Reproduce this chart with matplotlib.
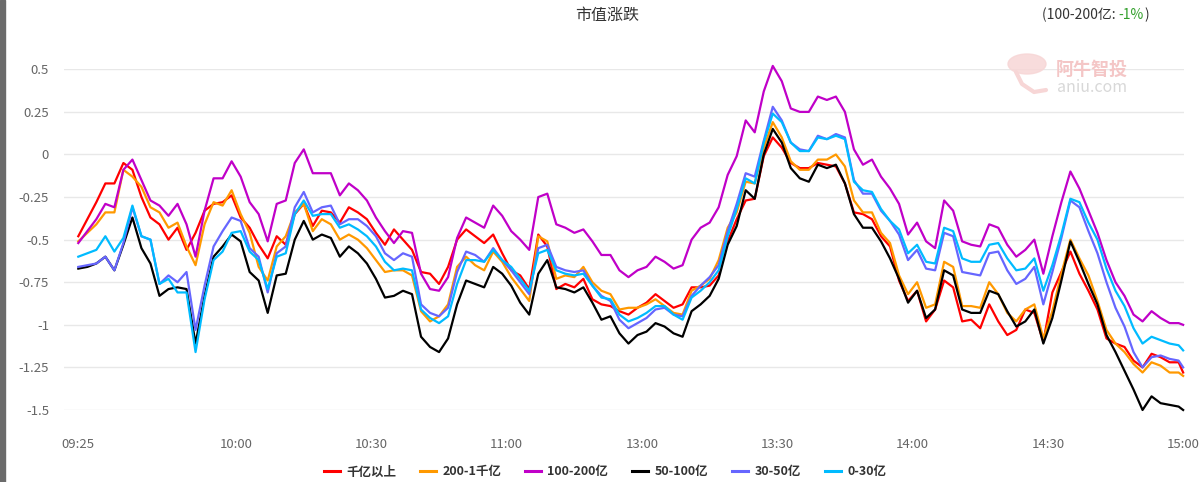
import matplotlib
matplotlib.use('Agg')
import matplotlib.pyplot as plt
from matplotlib.patches import Ellipse, Rectangle

plt.rcParams['font.family'] = ['Noto Sans CJK SC', 'DejaVu Sans']
plt.rcParams['axes.unicode_minus'] = False

# 时间索引 (09:25 = 0, 15:00 = 245), 每两分钟取一个点
idx = list(range(0, 245, 2)) + [245]
tick_pos = [0, 35, 65, 95, 125, 155, 185, 215, 245]
tick_labels = ['09:25', '10:00', '10:30', '11:00', '13:00', '13:30', '14:00', '14:30', '15:00']

s_1000 = [-0.48, -0.38, -0.28, -0.17, -0.17, -0.05, -0.09, -0.25, -0.37, -0.41,
          -0.50, -0.43, -0.56, -0.46, -0.33, -0.29, -0.28, -0.24, -0.37, -0.43,
          -0.53, -0.61, -0.48, -0.53, -0.35, -0.29, -0.42, -0.33, -0.34, -0.40,
          -0.31, -0.34, -0.38, -0.46, -0.53, -0.44, -0.50, -0.56, -0.69, -0.70,
          -0.76, -0.66, -0.50, -0.44, -0.48, -0.52, -0.47, -0.58, -0.68, -0.71,
          -0.79, -0.47, -0.54, -0.79, -0.76, -0.78, -0.73, -0.85, -0.88, -0.89,
          -0.92, -0.94, -0.90, -0.87, -0.82, -0.86, -0.90, -0.88, -0.78, -0.78,
          -0.77, -0.71, -0.51, -0.38, -0.27, -0.26, -0.01, 0.10, 0.04, -0.05,
          -0.08, -0.08, -0.05, -0.06, -0.07, -0.17, -0.34, -0.35, -0.38, -0.48,
          -0.54, -0.74, -0.86, -0.80, -0.98, -0.91, -0.74, -0.78, -0.98, -0.97,
          -1.02, -0.88, -0.98, -1.06, -1.03, -0.91, -0.93, -1.10, -0.81, -0.69,
          -0.57, -0.70, -0.80, -0.91, -1.08, -1.11, -1.13, -1.21, -1.25, -1.17,
          -1.19, -1.22, -1.22, -1.28]
s_200_1000 = [-0.51, -0.46, -0.41, -0.34, -0.34, -0.09, -0.13, -0.19, -0.31, -0.34,
              -0.43, -0.40, -0.54, -0.65, -0.41, -0.28, -0.30, -0.21, -0.35, -0.46,
              -0.66, -0.74, -0.54, -0.48, -0.34, -0.29, -0.45, -0.38, -0.41, -0.50,
              -0.47, -0.50, -0.55, -0.62, -0.69, -0.68, -0.68, -0.71, -0.92, -0.98,
              -0.95, -0.88, -0.66, -0.60, -0.65, -0.68, -0.57, -0.63, -0.72, -0.79,
              -0.86, -0.48, -0.51, -0.73, -0.71, -0.72, -0.66, -0.75, -0.80, -0.82,
              -0.91, -0.90, -0.90, -0.88, -0.85, -0.89, -0.93, -0.94, -0.80, -0.77,
              -0.73, -0.62, -0.43, -0.34, -0.16, -0.17, 0.04, 0.19, 0.10, -0.04,
              -0.09, -0.09, -0.03, -0.03, 0.00, -0.07, -0.27, -0.34, -0.34, -0.46,
              -0.52, -0.71, -0.82, -0.75, -0.90, -0.88, -0.63, -0.66, -0.89, -0.89,
              -0.90, -0.75, -0.82, -0.93, -0.98, -0.91, -0.88, -1.08, -0.92, -0.70,
              -0.50, -0.61, -0.71, -0.86, -1.03, -1.11, -1.16, -1.23, -1.28, -1.22,
              -1.24, -1.28, -1.28, -1.30]
s_100_200 = [-0.52, -0.45, -0.38, -0.29, -0.31, -0.09, -0.03, -0.15, -0.27, -0.30,
             -0.36, -0.29, -0.41, -0.60, -0.33, -0.14, -0.14, -0.04, -0.13, -0.28,
             -0.35, -0.51, -0.29, -0.27, -0.05, 0.03, -0.11, -0.11, -0.11, -0.24,
             -0.17, -0.21, -0.27, -0.37, -0.45, -0.52, -0.45, -0.46, -0.70, -0.79,
             -0.80, -0.72, -0.49, -0.37, -0.40, -0.43, -0.30, -0.36, -0.45, -0.50,
             -0.56, -0.25, -0.23, -0.41, -0.43, -0.46, -0.44, -0.51, -0.59, -0.59,
             -0.68, -0.72, -0.68, -0.66, -0.60, -0.63, -0.67, -0.65, -0.50, -0.43,
             -0.40, -0.31, -0.12, -0.01, 0.20, 0.13, 0.37, 0.52, 0.43, 0.27,
             0.25, 0.25, 0.34, 0.32, 0.34, 0.25, 0.03, -0.06, -0.03, -0.13,
             -0.20, -0.29, -0.47, -0.40, -0.51, -0.55, -0.27, -0.33, -0.51, -0.53,
             -0.54, -0.41, -0.43, -0.53, -0.60, -0.56, -0.50, -0.70, -0.48, -0.28,
             -0.10, -0.20, -0.33, -0.46, -0.62, -0.75, -0.83, -0.94, -0.98, -0.92,
             -0.96, -0.99, -0.99, -1.00]
s_50_100 = [-0.67, -0.66, -0.64, -0.60, -0.68, -0.53, -0.37, -0.55, -0.64, -0.83,
            -0.79, -0.78, -0.79, -1.11, -0.83, -0.60, -0.54, -0.47, -0.51, -0.69,
            -0.74, -0.93, -0.71, -0.70, -0.50, -0.39, -0.50, -0.47, -0.49, -0.60,
            -0.54, -0.58, -0.64, -0.73, -0.84, -0.83, -0.80, -0.82, -1.07, -1.13,
            -1.16, -1.08, -0.88, -0.74, -0.76, -0.78, -0.66, -0.70, -0.77, -0.87,
            -0.94, -0.70, -0.62, -0.78, -0.79, -0.81, -0.78, -0.87, -0.97, -0.95,
            -1.05, -1.11, -1.06, -1.04, -0.99, -1.01, -1.05, -1.07, -0.92, -0.88,
            -0.83, -0.73, -0.53, -0.42, -0.21, -0.26, 0.00, 0.15, 0.07, -0.08,
            -0.14, -0.16, -0.06, -0.08, -0.06, -0.17, -0.35, -0.43, -0.43, -0.51,
            -0.61, -0.73, -0.87, -0.80, -0.96, -0.91, -0.68, -0.71, -0.91, -0.93,
            -0.93, -0.80, -0.82, -0.92, -1.01, -0.98, -0.91, -1.11, -0.96, -0.74,
            -0.51, -0.63, -0.76, -0.88, -1.06, -1.16, -1.27, -1.38, -1.50, -1.42,
            -1.46, -1.47, -1.48, -1.50]
s_30_50 = [-0.66, -0.65, -0.64, -0.60, -0.68, -0.52, -0.31, -0.48, -0.50, -0.76,
           -0.71, -0.75, -0.69, -1.03, -0.77, -0.54, -0.45, -0.37, -0.39, -0.55,
           -0.60, -0.81, -0.58, -0.54, -0.31, -0.22, -0.34, -0.31, -0.30, -0.41,
           -0.38, -0.38, -0.42, -0.48, -0.58, -0.62, -0.58, -0.60, -0.88, -0.93,
           -0.95, -0.90, -0.69, -0.57, -0.59, -0.63, -0.55, -0.62, -0.68, -0.75,
           -0.82, -0.55, -0.53, -0.66, -0.68, -0.69, -0.68, -0.77, -0.83, -0.86,
           -0.97, -1.02, -0.99, -0.96, -0.91, -0.90, -0.94, -0.95, -0.83, -0.77,
           -0.72, -0.65, -0.45, -0.29, -0.11, -0.13, 0.08, 0.28, 0.20, 0.07,
           0.03, 0.02, 0.11, 0.09, 0.12, 0.10, -0.15, -0.23, -0.23, -0.33,
           -0.39, -0.47, -0.62, -0.56, -0.67, -0.68, -0.46, -0.48, -0.69, -0.70,
           -0.71, -0.58, -0.57, -0.68, -0.76, -0.73, -0.66, -0.88, -0.69, -0.49,
           -0.27, -0.31, -0.45, -0.58, -0.75, -0.90, -1.01, -1.16, -1.25, -1.19,
           -1.18, -1.20, -1.21, -1.25]
s_0_30 = [-0.60, -0.58, -0.56, -0.48, -0.57, -0.49, -0.30, -0.48, -0.50, -0.76,
          -0.73, -0.81, -0.81, -1.16, -0.85, -0.62, -0.57, -0.46, -0.45, -0.57,
          -0.62, -0.79, -0.60, -0.58, -0.35, -0.27, -0.36, -0.35, -0.35, -0.43,
          -0.41, -0.44, -0.48, -0.54, -0.63, -0.68, -0.67, -0.68, -0.91, -0.96,
          -0.99, -0.95, -0.76, -0.62, -0.62, -0.63, -0.56, -0.62, -0.66, -0.73,
          -0.80, -0.58, -0.56, -0.68, -0.70, -0.71, -0.70, -0.77, -0.84, -0.85,
          -0.94, -0.98, -0.96, -0.93, -0.89, -0.89, -0.94, -0.97, -0.84, -0.80,
          -0.75, -0.68, -0.48, -0.32, -0.14, -0.17, 0.07, 0.24, 0.19, 0.07,
          0.02, 0.02, 0.10, 0.09, 0.11, 0.09, -0.16, -0.21, -0.22, -0.32,
          -0.39, -0.44, -0.58, -0.53, -0.63, -0.64, -0.43, -0.45, -0.61, -0.63,
          -0.63, -0.53, -0.52, -0.61, -0.68, -0.67, -0.61, -0.80, -0.65, -0.47,
          -0.26, -0.28, -0.40, -0.50, -0.67, -0.80, -0.89, -1.02, -1.11, -1.07,
          -1.09, -1.11, -1.12, -1.15]

series = [
    ('千亿以上', s_1000, '#ff0000'),
    ('200-1千亿', s_200_1000, '#ff9900'),
    ('100-200亿', s_100_200, '#c000c8'),
    ('50-100亿', s_50_100, '#000000'),
    ('30-50亿', s_30_50, '#6666ff'),
    ('0-30亿', s_0_30, '#00bbff'),
]

fig = plt.figure(figsize=(12, 4.82), dpi=100)
ax = fig.add_axes([0.0536, 0.1494, 0.9331, 0.7068])

for name, vals, color in series:
    ax.plot(idx, vals, color=color, lw=1.6, label=name, clip_on=False)

ax.set_xlim(-3.1, 245.2)
ax.set_ylim(-1.5, 0.5)
yt = [0.5, 0.25, 0, -0.25, -0.5, -0.75, -1, -1.25, -1.5]
ax.set_yticks(yt)
ax.set_yticklabels(['0.5', '0.25', '0', '-0.25', '-0.5', '-0.75', '-1', '-1.25', '-1.5'])
ax.set_xticks(tick_pos)
ax.set_xticklabels(tick_labels)
ax.tick_params(axis='both', length=0, labelsize=9.5, labelcolor='#666666')
ax.tick_params(axis='x', pad=20)
ax.tick_params(axis='y', pad=11)
ax.grid(axis='y', color='#e8e8e8', lw=1)
ax.set_axisbelow(True)
for sp in ax.spines.values():
    sp.set_visible(False)

# 标题
fig.text(0.506, 0.969, '市值涨跌', ha='center', va='center', fontsize=11.5, color='#333333')
t1 = fig.text(1042 / 1200, 0.969, '(100-200亿: ', ha='left', va='center',
              fontsize=10, color='#333333')
t2 = ax.annotate('-1%', xy=(1, 0), xycoords=t1, va='bottom', ha='left',
                 fontsize=10, color='#33a02c')
ax.annotate(')', xy=(1, 0), xycoords=t2, va='bottom', ha='left',
            fontsize=10, color='#333333')

# 水印
fig.patches.append(Ellipse((1027 / 1200, 1 - 64 / 482), 38 / 1200, 20 / 482,
                           transform=fig.transFigure, color='#f7d6d6', alpha=0.85))
ax.plot([1016 / 1200, 1022 / 1200, 1034 / 1200, 1046 / 1200],
        [1 - 72 / 482, 1 - 84 / 482, 1 - 92 / 482, 1 - 90 / 482],
        transform=fig.transFigure, color='#f7d6d6', lw=3, clip_on=False,
        solid_capstyle='round')
fig.text(1092 / 1200, 1 - 69 / 482, '阿牛智投', ha='center', va='center',
         fontsize=13, color='#f4c6c6', fontweight='bold')
fig.text(1092 / 1200, 1 - 88 / 482, 'aniu.com', ha='center', va='center',
         fontsize=11.5, color='#d8d8d8')

# 左边框
fig.patches.append(Rectangle((0, 0), 5 / 1200, 1, transform=fig.transFigure,
                             color='#6b6b6b'))

leg = fig.legend(loc='center', bbox_to_anchor=(0.504, 1 - 472 / 482), ncol=6,
                 frameon=False, fontsize=9, handlelength=1.3, handletextpad=0.5,
                 columnspacing=1.9)
for t in leg.get_texts():
    t.set_color('#333333')
    t.set_fontweight('bold')
for h in leg.get_lines():
    h.set_linewidth(2.2)

fig.savefig('out.png', dpi=100)
